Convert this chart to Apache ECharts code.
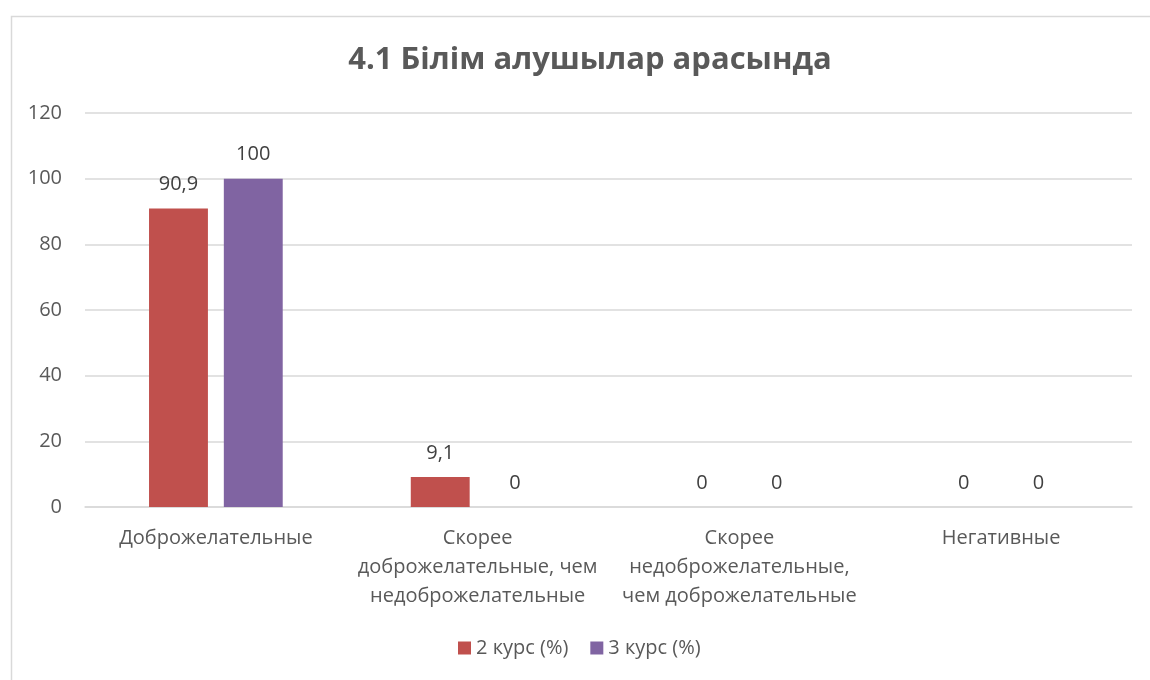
<!DOCTYPE html>
<html lang="ru">
<head>
    <meta charset="UTF-8">
    <title>4.1 Білім алушылар арасында</title>
    <script type="text/javascript" src="https://cdn.jsdelivr.net/npm/echarts@6/dist/echarts.min.js"></script>
    <style>
        html, body { margin: 0; padding: 0; background: #fff; }
    </style>
</head>
<body>
<div id="chart" style="width: 1150px;height: 680px;"></div>
<script type="text/javascript">
    // категории (переносы строк как на исходной картинке)
    var categories = [
        'Доброжелательные',
        'Скорее\nдоброжелательные, чем\nнедоброжелательные',
        'Скорее\nнедоброжелательные,\nчем доброжелательные',
        'Негативные'
    ];
    var seriesNames = ['2 курс (%)', '3 курс (%)'];
    var kurs2 = [90.9, 9.1, 0, 0];
    var kurs3 = [100, 0, 0, 0];
    var yTicks = {min: 0, max: 120, interval: 20};

    var textColor = '#595959';
    var fontFam = '"Open Sans", "Noto Sans", sans-serif';

    var makeSeries = function (name, data, color) {
        return {
            name: name,
            type: 'bar',
            data: data,
            barWidth: '22.5%',
            barGap: '27%',
            itemStyle: {color: color},
            label: {
                show: true,
                position: 'top',
                distance: 14,
                color: '#404040',
                fontSize: 20,
                fontFamily: fontFam,
                formatter: function (p) {
                    return String(p.value).replace('.', ',');
                }
            }
        };
    };

    var myChart = echarts.init(document.getElementById('chart'));
    var option = {
        backgroundColor: '#fff',
        animation: false,
        graphic: [{
            type: 'rect',
            left: 9,
            top: 14,
            shape: {width: 1160, height: 700},
            style: {fill: 'none', stroke: '#d9d9d9', lineWidth: 1.5},
            silent: true
        }],
        title: {
            text: '4.1 Білім алушылар арасында',
            left: 585,
            textAlign: 'center',
            top: 40,
            textStyle: {
                color: textColor,
                fontSize: 31,
                fontWeight: 'bold',
                fontFamily: fontFam
            }
        },
        legend: {
            data: seriesNames,
            bottom: 17,
            left: 453,
            itemWidth: 13,
            itemHeight: 13,
            itemGap: 22,
            icon: 'rect',
            textStyle: {color: textColor, fontSize: 20, fontFamily: fontFam}
        },
        grid: {left: 85, right: 18, top: 113, bottom: 173, containLabel: false},
        xAxis: {
            type: 'category',
            data: categories,
            axisLine: {show: true, lineStyle: {color: '#d9d9d9', width: 1.5}},
            axisTick: {show: false},
            axisLabel: {
                color: textColor,
                fontSize: 20,
                lineHeight: 29,
                margin: 17,
                interval: 0,
                fontFamily: fontFam
            }
        },
        yAxis: {
            type: 'value',
            min: yTicks.min,
            max: yTicks.max,
            interval: yTicks.interval,
            axisLine: {show: false},
            axisTick: {show: false},
            splitLine: {lineStyle: {color: '#d9d9d9', width: 1.5}},
            axisLabel: {
                color: textColor,
                fontSize: 20,
                margin: 23,
                fontFamily: fontFam
            }
        },
        series: [
            makeSeries(seriesNames[0], kurs2, '#C0504D'),
            makeSeries(seriesNames[1], kurs3, '#8064A2')
        ]
    };
    myChart.setOption(option);
</script>
</body>
</html>
